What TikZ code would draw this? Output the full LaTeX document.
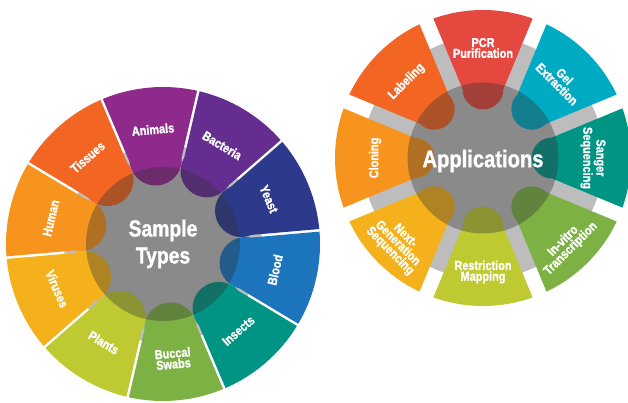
\documentclass[tikz,border=0pt]{standalone}
\usepackage{fontspec}
\setmainfont{Liberation Sans}
\newfontfamily\narrowfont[FakeStretch=0.84, BoldFeatures={FakeBold=1.2}]{Liberation Sans}

% petal colours
\definecolor{animals}{HTML}{8E2A8C}
\definecolor{bacteria}{HTML}{662D91}
\definecolor{yeast}{HTML}{2D3A8C}
\definecolor{blood}{HTML}{1C75BC}
\definecolor{insects}{HTML}{009484}
\definecolor{buccal}{HTML}{7DB144}
\definecolor{plants}{HTML}{BFCA33}
\definecolor{viruses}{HTML}{F4B11C}
\definecolor{human}{HTML}{F7941D}
\definecolor{tissues}{HTML}{F26522}
\definecolor{pcr}{HTML}{E5483F}
\definecolor{gel}{HTML}{00AAC3}
% hub and backing disc
\definecolor{backgray}{HTML}{BDBDBD}
\definecolor{hubgray}{HTML}{323232}

\begin{document}
\begin{tikzpicture}[
	x=1pt, y=1pt,
	segtext/.style={% white labels on the petals
		text=white,
		inner sep=0pt,
		align=center,
		font=\narrowfont\bfseries\fontsize{13}{10.8}\selectfont,
	},
	hubtext/.style={
		text=white,
		inner sep=0pt,
		align=center,
		font=\narrowfont\bfseries\fontsize{23}{27}\selectfont,
	},
	hub/.style={% see-through grey centre
		fill=hubgray,
		fill opacity=.36,
	},
]
	\useasboundingbox (0,0) rectangle (628,403);

	% ---- left wheel ----
	\begin{scope}[shift={(163,159)}]
		\def\Rout{157} \def\rtab{89} \def\gap{1.3} \def\half{18}
		\fill[backgray] (0,0) circle (99);
		\foreach \a/\col in {95/animals, 59/bacteria, 23/yeast, -13/blood, -49/insects,
				-85/buccal, -121/plants, -157/viruses, 167/human, 131/tissues}{
			\pgfmathsetmacro{\ho}{\half-asin(\gap/\Rout)}
			\pgfmathsetmacro{\hi}{\half-asin(\gap/\rtab)}
			\pgfmathsetmacro{\tabr}{\rtab*sin(\hi)}
			\fill[\col] (\a-\ho:\Rout) arc[start angle=\a-\ho, end angle=\a+\ho, radius=\Rout]
				-- (\a+\hi:\rtab) arc[start angle=\a+90, end angle=\a+270, radius=\tabr] -- cycle;
		}
		\fill[hub] (0,0) circle (77);
		\node[hubtext] (sample) at (0,0) {Sample\\Types};

		\foreach \a/\rot/\nm/\txt in {95/5/animal/Animals, 59/-31/bact/Bacteria, 23/-67/yeast/Yeast,
				-13/77/blood/Blood, -49/41/insect/Insects, -85/5/buccal/Buccal\\Swabs,
				-121/-31/plant/Plants, -157/-67/virus/Viruses, 167/77/human/Human,
				131/41/tissue/Tissues}
			\node[segtext, rotate=\rot] (\nm) at (\a:115) {\txt};
	\end{scope}

	% ---- right wheel ----
	\begin{scope}[shift={(483,245)}]
		\def\Rout{148} \def\rtab{72} \def\gap{7.5} \def\half{22.5}
		\fill[backgray] (0,0) circle (121);
		\foreach \a/\col in {90/pcr, 45/gel, 0/insects, -45/buccal, -90/plants,
				-135/viruses, 180/human, 135/tissues}{
			\pgfmathsetmacro{\ho}{\half-asin(\gap/\Rout)}
			\pgfmathsetmacro{\hi}{\half-asin(\gap/\rtab)}
			\pgfmathsetmacro{\tabr}{\rtab*sin(\hi)}
			\fill[\col] (\a-\ho:\Rout) arc[start angle=\a-\ho, end angle=\a+\ho, radius=\Rout]
				-- (\a+\hi:\rtab) arc[start angle=\a+90, end angle=\a+270, radius=\tabr] -- cycle;
		}
		\fill[hub] (0,0) circle (75.5);
		\node[hubtext, font=\narrowfont\bfseries\fontsize{24}{28}\selectfont] (apps) at (0,-3) {Applications};

		\foreach \a/\r/\rot/\nm/\txt in {90/110/0/pcr/PCR\\Purification, 45/110/-45/gel/Gel\\Extraction,
				0/110/-90/sanger/Sanger\\Sequencing, -46/121/45/invitro/In-vitro\\Transcription,
				-90/114/0/restr/Restriction\\Mapping, -135/121/-45/ngs/Next-\\Generation\\Sequencing,
				180/108/90/cloning/Cloning, 135/108/45/labeling/Labeling}
			\node[segtext, rotate=\rot] (\nm) at (\a:\r) {\txt};
	\end{scope}
\end{tikzpicture}
\end{document}
